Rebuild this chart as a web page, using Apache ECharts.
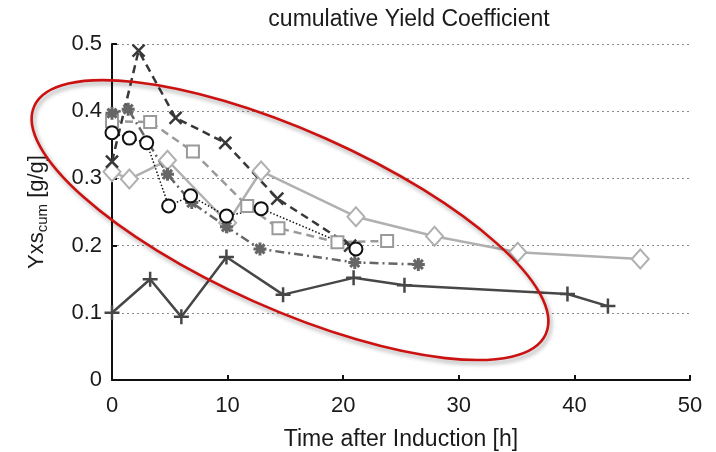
<!DOCTYPE html>
<html>
<head>
<meta charset="utf-8">
<script src="https://cdn.jsdelivr.net/npm/echarts@6/dist/echarts.min.js"></script>
<style>
html,body{margin:0;padding:0;background:#fff;}
#chart{width:716px;height:452px;}
</style>
</head>
<body>
<div id="chart"></div>
<script>
'use strict'

// x-axis ticks and y-axis ticks
var xTicks = [0, 10, 20, 30, 40, 50];
var yTicks = [0, 0.1, 0.2, 0.3, 0.4, 0.5];

// series: time [h] and Yxs_cum [g/g]
var crossT  = [0, 2.3, 5.5, 9.8, 14.3, 20.6];
var crossY  = [0.325, 0.49, 0.39, 0.353, 0.27, 0.2];

var squareT = [0, 3.3, 7.0, 11.7, 14.4, 19.5, 23.8];
var squareY = [0.385, 0.384, 0.34, 0.259, 0.226, 0.205, 0.207];

var diamondT = [0, 1.5, 4.8, 10.0, 12.9, 21.1, 27.9, 35.1, 45.7];
var diamondY = [0.31, 0.299, 0.327, 0.234, 0.311, 0.243, 0.214, 0.19, 0.18];

var circleT = [0, 1.5, 3.0, 4.9, 6.8, 9.9, 12.9, 21.1];
var circleY = [0.368, 0.36, 0.353, 0.259, 0.274, 0.244, 0.255, 0.195];

var starT = [0, 1.4, 4.8, 6.9, 9.9, 12.8, 21.0, 26.5];
var starY = [0.397, 0.403, 0.306, 0.264, 0.228, 0.195, 0.175, 0.172];

var plusT = [0, 3.3, 6.0, 9.9, 14.8, 20.9, 25.3, 39.4, 42.9];
var plusY = [0.1, 0.15, 0.094, 0.183, 0.127, 0.152, 0.141, 0.128, 0.11];

// red ellipse annotation (centre in axis units)
var ringCentre = [15.4, 0.238];

function pairs(t, y){
    var out = [];
    for (var i = 0; i < t.length; i++) out.push([t[i], y[i]]);
    return out;
}

var FONT = 'Liberation Sans, Arial, sans-serif';
var symX    = 'path://M0,0L10,10M10,0L0,10';
var symPlus = 'path://M5,0L5,10M0,5L10,5';
var symStar = 'path://M5,0L5,10M0,5L10,5M1.5,1.5L8.5,8.5M8.5,1.5L1.5,8.5';

function mkSeries(data, color, lineType, lineWidth, symbol, size, bw){
    return {
        type: 'line',
        data: data,
        symbol: symbol,
        symbolSize: size,
        lineStyle: {color: color, width: lineWidth, type: lineType},
        itemStyle: {color: color, borderColor: color, borderWidth: bw},
        emphasis: {disabled: true}
    };
}

var chart = echarts.init(document.getElementById('chart'));
chart.setOption({
    animation: false,
    title: {
        text: 'cumulative Yield Coefficient',
        left: 404, textAlign: 'center', top: 3,
        textStyle: {fontFamily: FONT, fontSize: 23, fontWeight: 'normal', color: '#1a1a1a'}
    },
    grid: {left: 112, right: 26, top: 44, bottom: 72, containLabel: false, outerBoundsMode: 'none'},
    xAxis: {
        type: 'value', min: 0, max: 50, interval: 10,
        name: 'Time after Induction [h]', nameLocation: 'middle', nameGap: 48,
        nameTextStyle: {fontFamily: FONT, fontSize: 23, color: '#1a1a1a'},
        axisLine: {lineStyle: {color: '#111', width: 2}},
        axisTick: {inside: true, length: 5, lineStyle: {color: '#111', width: 2}},
        axisLabel: {fontFamily: FONT, fontSize: 22, color: '#1a1a1a', margin: 15,
            formatter: function(v){ return xTicks.indexOf(v) >= 0 ? String(v) : ''; }},
        splitLine: {show: false}
    },
    yAxis: {
        type: 'value', min: 0, max: 0.5, interval: 0.1,
        name: '{a|Yxs}{b|cum}{a| [g/g]}', nameLocation: 'middle', nameGap: 62, nameRotate: 90,
        nameTextStyle: {
            fontFamily: FONT, color: '#1a1a1a',
            rich: {
                a: {fontFamily: FONT, fontSize: 22, color: '#1a1a1a', lineHeight: 26},
                b: {fontFamily: FONT, fontSize: 15, color: '#1a1a1a', lineHeight: 26, verticalAlign: 'bottom', padding: [10, 0, 0, 0]}
            }
        },
        axisLine: {show: true, lineStyle: {color: '#111', width: 2}},
        axisTick: {show: true, inside: true, length: 5, lineStyle: {color: '#111', width: 2}},
        axisLabel: {fontFamily: FONT, fontSize: 22, color: '#1a1a1a', margin: 10,
            formatter: function(v){
                for (var i = 0; i < yTicks.length; i++) if (Math.abs(yTicks[i] - v) < 1e-9) return String(yTicks[i]);
                return '';
            }},
        splitLine: {show: true, lineStyle: {color: '#8a8a8a', width: 1, type: [2, 3]}}
    },
    series: [
        mkSeries(pairs(plusT, plusY), '#474747', 'solid', 2.5, symPlus, 15, 2.5),
        mkSeries(pairs(diamondT, diamondY), '#b0b0b0', 'solid', 2.5, 'emptyDiamond', [17, 19], 2.5),
        mkSeries(pairs(squareT, squareY), '#9a9a9a', [8, 5], 2.5, 'emptyRect', 12, 2.5),
        mkSeries(pairs(starT, starY), '#666666', [9, 4, 2, 4], 2.5, symStar, 13, 3),
        mkSeries(pairs(crossT, crossY), '#383838', [8, 5], 2.5, symX, 12, 2.5),
        mkSeries(pairs(circleT, circleY), '#111111', [1.5, 2], 1.5, 'emptyCircle', 13, 2.5)
    ]
});

// ellipse drawn over the plot, anchored at a data position
var c = chart.convertToPixel({gridIndex: 0}, ringCentre);
chart.setOption({
    graphic: [{
        type: 'ellipse',
        x: c[0], y: c[1],
        rotation: -24 * Math.PI / 180,
        shape: {cx: 0, cy: 0, rx: 280, ry: 89},
        style: {
            fill: 'none', stroke: '#cc1111', lineWidth: 2.6,
            shadowBlur: 4, shadowColor: 'rgba(0,0,0,0.35)', shadowOffsetX: 2, shadowOffsetY: 3
        },
        z: 100, silent: true
    }]
});
</script>
</body>
</html>
